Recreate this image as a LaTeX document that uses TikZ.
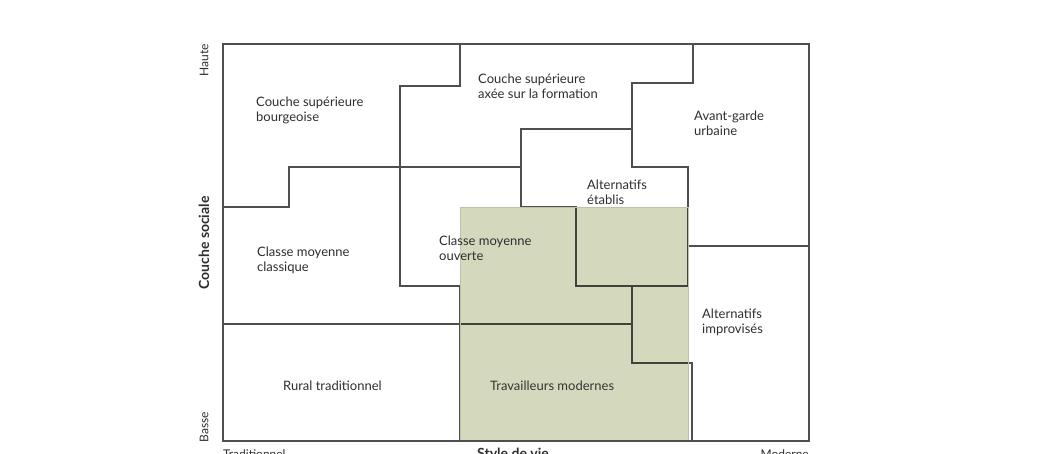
\documentclass[tikz,border=0pt]{standalone}
\usepackage{fontspec}
\setmainfont{Lato}
\usetikzlibrary{positioning}

\definecolor{milieugreen}{HTML}{D4D9BE}
\definecolor{milieuedge}{HTML}{BEC2AA}
\definecolor{milieuline}{HTML}{4F4F4F}
\definecolor{milieutext}{HTML}{2E2E2E}

\begin{document}
\begin{tikzpicture}[
    x=1pt, y=-1pt,
    border/.style={draw=milieuline, line width=1.8pt},
    sep/.style={draw=milieuline, line width=1.4pt},
    lbl/.style={anchor=north west, inner sep=0pt, align=left,
                font=\fontsize{13}{15.5}\selectfont, text=milieutext},
    axis/.style={inner sep=0pt, font=\fontsize{12}{14}\selectfont, text=milieutext},
    axisbold/.style={axis, font=\fontsize{14}{16}\selectfont\bfseries}
  ]
  \useasboundingbox (0,0) rectangle (1058,453);

  % Boundaries between milieus
  \draw[sep] (460,44) -- (460,86) -- (400,86) -- (400,286) -- (460,286) -- (460,441);
  \draw[sep] (223,207) -- (289,207) -- (289,167) -- (521,167);
  \draw[sep] (693,44) -- (693,83) -- (632,83) -- (632,167) -- (688,167) -- (688,286);
  \draw[sep] (632,129) -- (521,129) -- (521,207) -- (576,207) -- (576,286) -- (688,286);
  \draw[sep] (688,246) -- (809,246);
  \draw[sep] (223,324) -- (632,324);
  \draw[sep] (632,286) -- (632,363) -- (692,363) -- (692,441);

  % Highlighted zone
  \fill[milieugreen, blend mode=multiply] (460,207) rectangle (688,441);
  \draw[milieuedge, line width=0.8pt] (460,441) -- (460,207) -- (688,207) -- (688,441);

  % Frame
  \draw[border] (223,44) rectangle (809,441);

  % Milieus
  \node[lbl] (bourg) at (256,96.5) {Couche supérieure\\bourgeoise};
  \node[lbl] (form) at (478,73.5) {Couche supérieure\\axée sur la formation};
  \node[lbl] (avant) at (694,110.5) {Avant-garde\\urbaine};
  \node[lbl] (etab) at (587,179.5) {Alternatifs\\établis};
  \node[lbl] (classique) at (257,246.5) {Classe moyenne\\classique};
  \node[lbl] (ouverte) at (439,235.5) {Classe moyenne\\ouverte};
  \node[lbl] (improv) at (702,308.5) {Alternatifs\\improvisés};
  \node[lbl] (rural) at (283,380.5) {Rural traditionnel};
  \node[lbl, text=milieutext!75!milieugreen!60!black] (trav) at (490,380.5) {Travailleurs modernes};

  % Axes
  \node[axis, rotate=90] (haute) at (204,60) {Haute};
  \node[axisbold, rotate=90] (couche) at (204,243) {Couche sociale};
  \node[axis, rotate=90] (basse) at (204,427) {Basse};
  \node[axis, anchor=north west] (trad) at (223,449) {Traditionnel};
  \node[axisbold, anchor=north] (style) at (513,447.5) {Style de vie};
  \node[axis, anchor=north east] (mod) at (809,449) {Moderne};

\end{tikzpicture}
\end{document}
